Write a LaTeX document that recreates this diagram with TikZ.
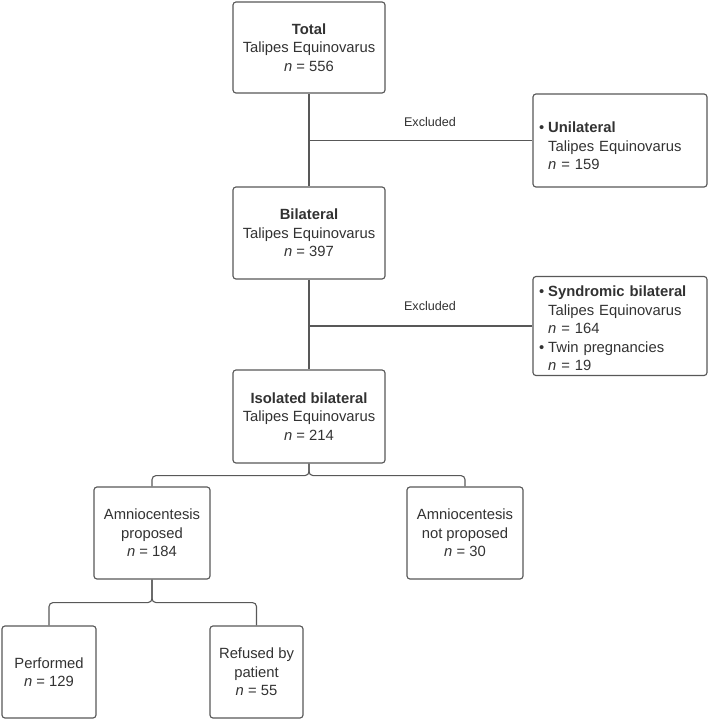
\documentclass[tikz,border=0pt]{standalone}
\usepackage{fontspec}
\setmainfont{Liberation Sans}
\definecolor{linegray}{RGB}{88,88,88}
\definecolor{txtgray}{RGB}{50,50,50}
\begin{document}
\begin{tikzpicture}[x=1pt,y=-1pt,
  box/.style={draw=linegray, line width=1.15pt, rounded corners=3pt, text=txtgray,
    font=\fontsize{14.8}{18.5}\selectfont, align=center, inner sep=2pt},
  bulletbox/.style={box, align=left, text width=162, inner xsep=6pt},
  conn/.style={draw=linegray, line width=1.1pt, rounded corners=4pt},
  exlabel/.style={text=txtgray, font=\fontsize{12.6}{15}\selectfont, inner sep=1pt}]
\useasboundingbox (0,0) rectangle (709,720);
\node[box, minimum width=152, minimum height=91] (total) at (309,47.5)
  {\textbf{Total}\\Talipes Equinovarus\\\textit{n} = 556};
\node[bulletbox, minimum height=93] (unil) at (620,140.5)
  {\raisebox{-7pt}[\height][\depth]{\begin{tabular}{@{}l@{\hspace{4pt}}l@{}}\textbullet & \textbf{Unilateral}\\ & Talipes Equinovarus\\ & \textit{n} = 159\end{tabular}}};
\node[box, minimum width=152, minimum height=92] (bil) at (309,233)
  {\textbf{Bilateral}\\Talipes Equinovarus\\\textit{n} = 397};
\node[bulletbox, minimum height=99] (synd) at (620,326)
  {\raisebox{-4pt}[\height][\depth]{\begin{tabular}{@{}l@{\hspace{4pt}}l@{}}\textbullet & \textbf{Syndromic bilateral}\\ & Talipes Equinovarus\\ & \textit{n} = 164\\\textbullet & Twin pregnancies\\ & \textit{n} = 19\end{tabular}}};
\node[box, minimum width=152, minimum height=93] (iso) at (309,416.5)
  {\textbf{Isolated bilateral}\\Talipes Equinovarus\\\textit{n} = 214};
\node[box, minimum width=116, minimum height=92] (prop) at (152,533)
  {Amniocentesis\\proposed\\\textit{n} = 184};
\node[box, minimum width=116, minimum height=92] (notprop) at (465,533)
  {Amniocentesis\\not proposed\\\textit{n} = 30};
\node[box, minimum width=94, minimum height=92] (perf) at (49,672)
  {Performed\\\textit{n} = 129};
\node[box, minimum width=93, minimum height=92] (ref) at (256.5,672)
  {Refused by\\patient\\\textit{n} = 55};
\node[exlabel] (ex1) at (430,122) {Excluded};
\node[exlabel] (ex2) at (430,306) {Excluded};
\draw[conn] (total.south) -- (bil.north);
\draw[conn] (total.south |- unil.west) -- (unil.west);
\draw[conn] (bil.south) -- (iso.north);
\draw[conn] (bil.south |- synd.west) -- (synd.west);
\draw[conn] (iso.south) -- ++(0,12) -| (prop.north);
\draw[conn] (iso.south) -- ++(0,12) -| (notprop.north);
\draw[conn] (prop.south) -- ++(0,23) -| (perf.north);
\draw[conn] (prop.south) -- ++(0,23) -| (ref.north);
\end{tikzpicture}
\end{document}
